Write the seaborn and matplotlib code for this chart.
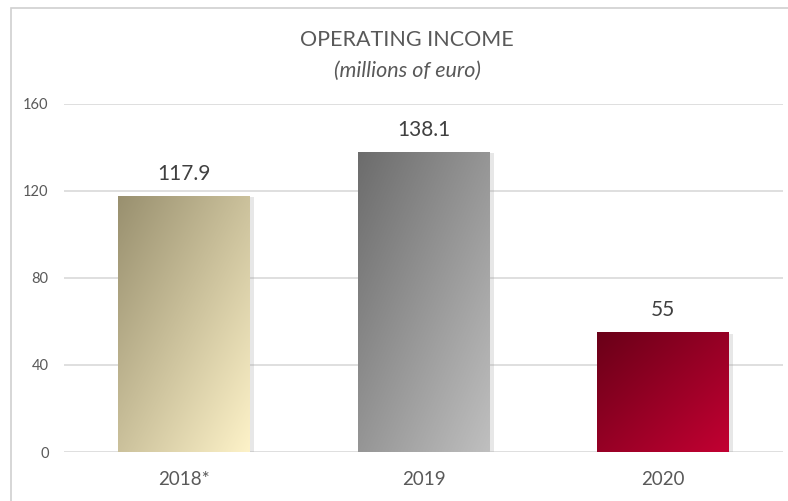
import seaborn as sns
import matplotlib.pyplot as plt
import matplotlib.patheffects as pe
from matplotlib.colors import LinearSegmentedColormap
from matplotlib.patches import Rectangle
import numpy as np
import pandas as pd

years = ["2018*", "2019", "2020"]
income = [117.9, 138.1, 55]
labels = ["117.9", "138.1", "55"]
y_ticks = [0, 40, 80, 120, 160]

# gradient colours: dark (top-left) -> light (bottom-right)
grad_colors = [("#99906f", "#fdf2c8"), ("#6c6c6c", "#bfbfbf"), ("#6a0018", "#c20032")]

sns.set_style("white")
plt.rcParams['font.family'] = ['Lato', 'DejaVu Sans']

df = pd.DataFrame({"Year": years, "Income": income})

fig = plt.figure(figsize=(7.88, 5.01), dpi=100)
ax = fig.add_axes([64 / 788, 1 - 452 / 501, (783 - 64) / 788, (452 - 104) / 501])

sns.barplot(data=df, x="Year", y="Income", width=0.55, color="white", ax=ax, zorder=3)

ax.set_xlim(-0.5, 2.5)
ax.set_ylim(0, 160)
ax.set_yticks(y_ticks)
ax.yaxis.grid(True, color="#d9d9d9", lw=1.2, zorder=0)
ax.set_axisbelow(True)
for s in ax.spines.values():
    s.set_visible(False)
ax.set_xlabel("")
ax.set_ylabel("")
ax.tick_params(axis="y", labelsize=10.5, labelcolor="#595959", length=0, pad=11)
ax.tick_params(axis="x", labelsize=13.5, labelcolor="#595959", length=0, pad=14)

# fill each bar with a diagonal gradient
yy, xx = np.mgrid[0:1:100j, 0:1:100j]
ramp = (xx + yy) / 2
for p, (c0, c1), lab in zip(ax.patches, grad_colors, labels):
    x0, w, h = p.get_x(), p.get_width(), p.get_height()
    p.set_edgecolor("none")
    p.set_path_effects([pe.SimplePatchShadow(offset=(3, -1), shadow_rgbFace="#a0a0a0", alpha=0.25), pe.Normal()])
    cmap = LinearSegmentedColormap.from_list("g", [c0, c1])
    im = ax.imshow(ramp, cmap=cmap, extent=(x0, x0 + w, 0, h), origin="upper",
                   aspect="auto", zorder=4, interpolation="bilinear")
    im.set_clip_path(p)
    ax.text(x0 + w / 2, h + 5.5, lab, ha="center", va="bottom", fontsize=15, color="#404040")

ax.set_xlim(-0.5, 2.5)
ax.set_ylim(0, 160)

fig.text(407 / 788, 1 - 40 / 501, "OPERATING INCOME", ha="center", va="center", fontsize=15.5, color="#595959")
fig.text(407 / 788, 1 - 71 / 501, "(millions of euro)", ha="center", va="center", fontsize=15.5,
         style="italic", color="#595959")

# chart frame
fig.patches.append(Rectangle((11 / 788, -0.1), 1.1, 1 - 8 / 501 + 0.1, transform=fig.transFigure,
                             fill=False, edgecolor="#d0d0d0", lw=1.2))

fig.savefig("out.png", dpi=100)
